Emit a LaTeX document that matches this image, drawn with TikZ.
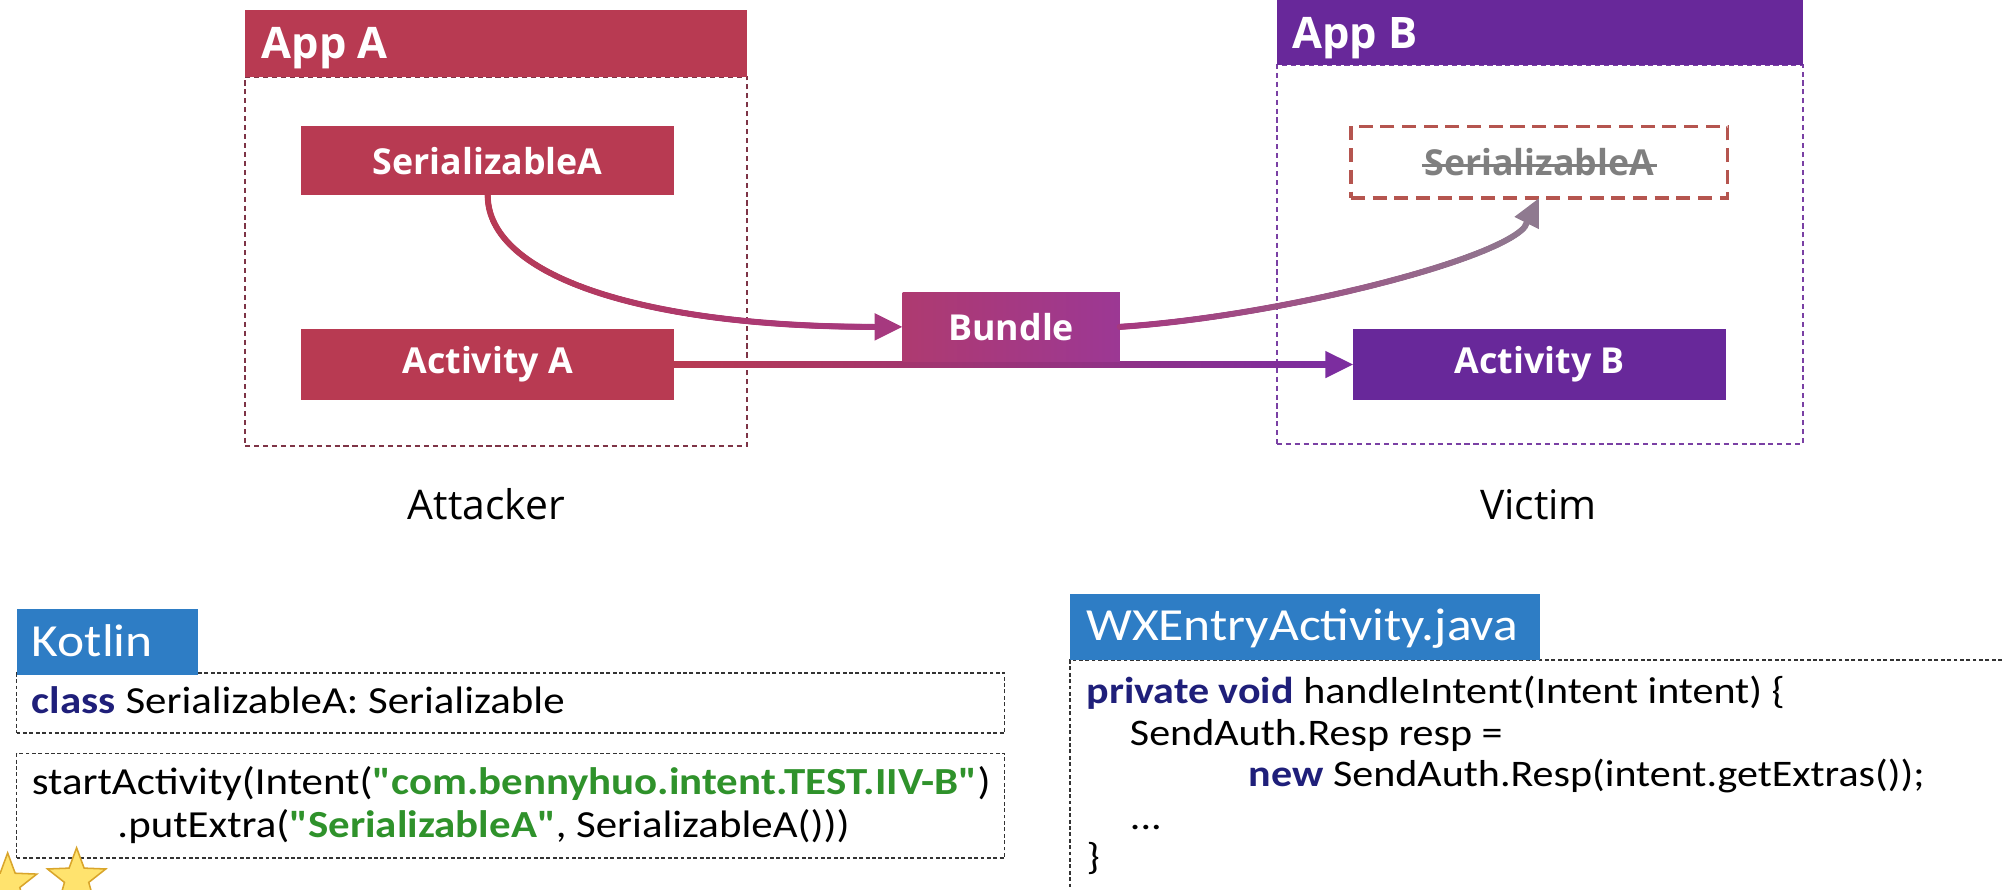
\documentclass[tikz,border=0pt]{standalone}
\usepackage{fontspec}
\setmainfont{Open Sans}
\newfontfamily\codefont{Carlito}[FakeStretch=1.12]
\usetikzlibrary{arrows.meta,shapes.geometric,decorations.markings,calc}
\definecolor{crim}{HTML}{B83A52}
\definecolor{purp}{HTML}{68289A}
\definecolor{purpline}{HTML}{7C2D9F}
\definecolor{bundC}{HTML}{A6397F}
\definecolor{bundL}{HTML}{AE3A70}
\definecolor{bundR}{HTML}{9C3894}
\definecolor{greyP}{HTML}{8F7A90}
\definecolor{frameAc}{HTML}{7E3446}
\definecolor{frameBc}{HTML}{7A40A4}
\definecolor{ghostc}{HTML}{B5554F}
\definecolor{ghosttxt}{HTML}{7F7F7F}
\definecolor{hdrblue}{HTML}{2E7DC5}
\definecolor{kw}{HTML}{1F1F7A}
\definecolor{strg}{HTML}{2F922B}
\definecolor{starfill}{HTML}{FFE36E}
\definecolor{staredge}{HTML}{D9A52B}
\newcommand\hdrfont{\fontsize{34}{40}\selectfont\bfseries}
\newcommand\lblfont{\fontsize{28}{33}\selectfont\bfseries}
\newcommand\sidefont{\fontsize{32}{38}\selectfont}
\newcommand\codehdrfont{\codefont\fontsize{36}{43}\selectfont}
\newcommand\codetxtfont{\codefont\fontsize{30}{36}\selectfont}
\newcommand\javatxtfont{\codefont\fontsize{29.4}{35}\selectfont}
\tikzset{
  every node/.style={inner sep=0pt, outer sep=0pt},
  frameA/.style={draw=frameAc, line width=1.5pt, dash pattern=on 4pt off 3pt},
  frameB/.style={draw=frameBc, line width=1.5pt, dash pattern=on 4pt off 3pt},
  hdrA/.style={fill=crim},
  hdrB/.style={fill=purp},
  hdrtxt/.style={text=white, font=\hdrfont},
  boxA/.style={fill=crim, text=white, font=\lblfont},
  boxB/.style={fill=purp, text=white, font=\lblfont},
  bundlebox/.style={left color=bundL, right color=bundR, text=white, font=\lblfont},
  ghostbox/.style={draw=ghostc, line width=2.8pt, dash pattern=on 11pt off 6pt},
  ghosttext/.style={text=ghosttxt, font=\lblfont},
  sidelbl/.style={text=black, font=\sidefont},
  codebox/.style={draw=black!80, line width=1pt, dash pattern=on 3pt off 2pt},
  codehdr/.style={fill=hdrblue},
  codehdrtxt/.style={text=white, font=\codehdrfont},
  codetxt/.style={text=black, font=\codetxtfont, anchor=base west},
  javatxt/.style={text=black, font=\javatxtfont, anchor=base west},
  arrowst/.style={line width=4.8pt, -{Triangle[length=22pt,width=20pt]}},
  gradpath/.style 2 args={
    decoration={markings,
      mark=between positions 0 and 1 step 0.8pt with {
        \pgfmathtruncatemacro\gp{(\pgfkeysvalueof{/pgf/decoration/mark info/distance from start}/\pgfdecoratedpathlength)*100}
        \fill[color=#2!\gp!#1] (0pt,0pt) circle (2.4pt);
      }},
    postaction={decorate}},
  starst/.style={star, star points=5, star point ratio=2.4, minimum size=48pt, fill=starfill, draw=staredge, line width=1.2pt}
}
\begin{document}
\begin{tikzpicture}[x=1pt,y=-1pt]
\useasboundingbox (0,0) rectangle (1568,697);
\fill[white] (0,0) rectangle (1568,697);
\clip (0,0) rectangle (1568,697);

% App A
\node[frameA, minimum width=393, minimum height=289, anchor=north west] (frA) at (192,60) {};
\node[hdrA, minimum width=393, minimum height=52, anchor=north west] (hdrA) at (192,8) {};
\node[hdrtxt, anchor=base west] (hdrAt) at (205,46) {App A};
\node[boxA, minimum width=292, minimum height=54, anchor=north west] (serA) at (236,99) {SerializableA};
\node[boxA, minimum width=292, minimum height=55, anchor=north west] (actA) at (236,258) {Activity A};
\node[sidelbl] (att) at (381,395) {Attacker};

% App B
\node[frameB, minimum width=412, minimum height=297, anchor=north west] (frB) at (1000,51) {};
\node[hdrB, minimum width=412, minimum height=51, anchor=north west] (hdrB) at (1000,0) {};
\node[hdrtxt, anchor=base west] (hdrBt) at (1012,38) {App B};
\node[ghostbox, minimum width=295, minimum height=56, anchor=north west] (serB) at (1058,99) {};
\node[ghosttext] (serBt) at (serB.center) {SerializableA};
\draw[ghosttxt, line width=2.4pt] ($(serBt.base west)+(-2,-8)$) -- ($(serBt.base east)+(2,-8)$);
\node[boxB, minimum width=292, minimum height=55, anchor=north west] (actB) at (1060,258) {Activity B};
\node[sidelbl] (vic) at (1205,395) {Victim};

% straight connector Activity A -> Activity B
\coordinate (lineend) at ($(actB.west)+(-22,0)$);
\shade[left color=crim, right color=purpline] ($(actA.east)+(0,-2.4)$) rectangle ($(lineend)+(0,2.4)$);
\draw[arrowst, purpline] ($(lineend)+(-1,0)$) -- (actB.west);

% Bundle
\node[bundlebox, minimum width=170, minimum height=54, anchor=north west] (bundle) at (707,229) {Bundle};

% curve SerializableA -> Bundle
\coordinate (c1end) at ($(bundle.west)+(-22,0)$);
\path[gradpath={crim}{bundC}] (serA.south) .. controls (382,215) and (500,256) .. (c1end);
\draw[arrowst, bundC] ($(c1end)+(-1,0)$) -- (bundle.west);

% curve Bundle -> SerializableA (B)
\coordinate (c2end) at (1194,178);
\path[gradpath={bundC}{greyP}] (bundle.east) .. controls (1000,248) and (1170,205) .. (c2end);
\draw[arrowst, greyP] (c2end) -- (serB.south);

% Kotlin code
\node[codebox, minimum width=774, minimum height=47, anchor=north west] (kbox1) at (13,527) {};
\node[codebox, minimum width=774, minimum height=82, anchor=north west] (kbox2) at (13,590) {};
\node[codehdr, minimum width=142, minimum height=52, anchor=north west] (khdr) at (13,477) {};
\node[codehdrtxt, anchor=base west] (khdrt) at (25,514) {Kotlin};
\node[codetxt] (k1) at (25,559) {\textbf{\color{kw}class} SerializableA: Serializable};
\node[codetxt] (k2) at (25,622) {startActivity(Intent(\textbf{\color{strg}"com.bennyhuo.intent.TEST.IIV-B"})};
\node[codetxt] (k3) at (92,656) {.putExtra(\textbf{\color{strg}"SerializableA"}, SerializableA()))};

% Java code
\node[codebox, minimum width=800, minimum height=300, anchor=north west] (jbox) at (838,517) {};
\node[codehdr, minimum width=368, minimum height=52, anchor=north west] (jhdr) at (838,465) {};
\node[codehdrtxt, anchor=base west] (jhdrt) at (851,502) {WXEntryActivity.java};
\node[javatxt] (j1) at (851,551) {\textbf{\color{kw}private void} handleIntent(Intent intent) \{};
\node[javatxt] (j2) at (885,584) {SendAuth.Resp resp =};
\node[javatxt] (j3) at (978,616) {\textbf{\color{kw}new} SendAuth.Resp(intent.getExtras());};
\node[javatxt] (j4) at (885,650) {...};
\node[javatxt] (j5) at (851,681) {\}};

% stars
\node[starst] (star1) at (6,692) {};
\node[starst] (star2) at (60,688) {};
\end{tikzpicture}
\end{document}
